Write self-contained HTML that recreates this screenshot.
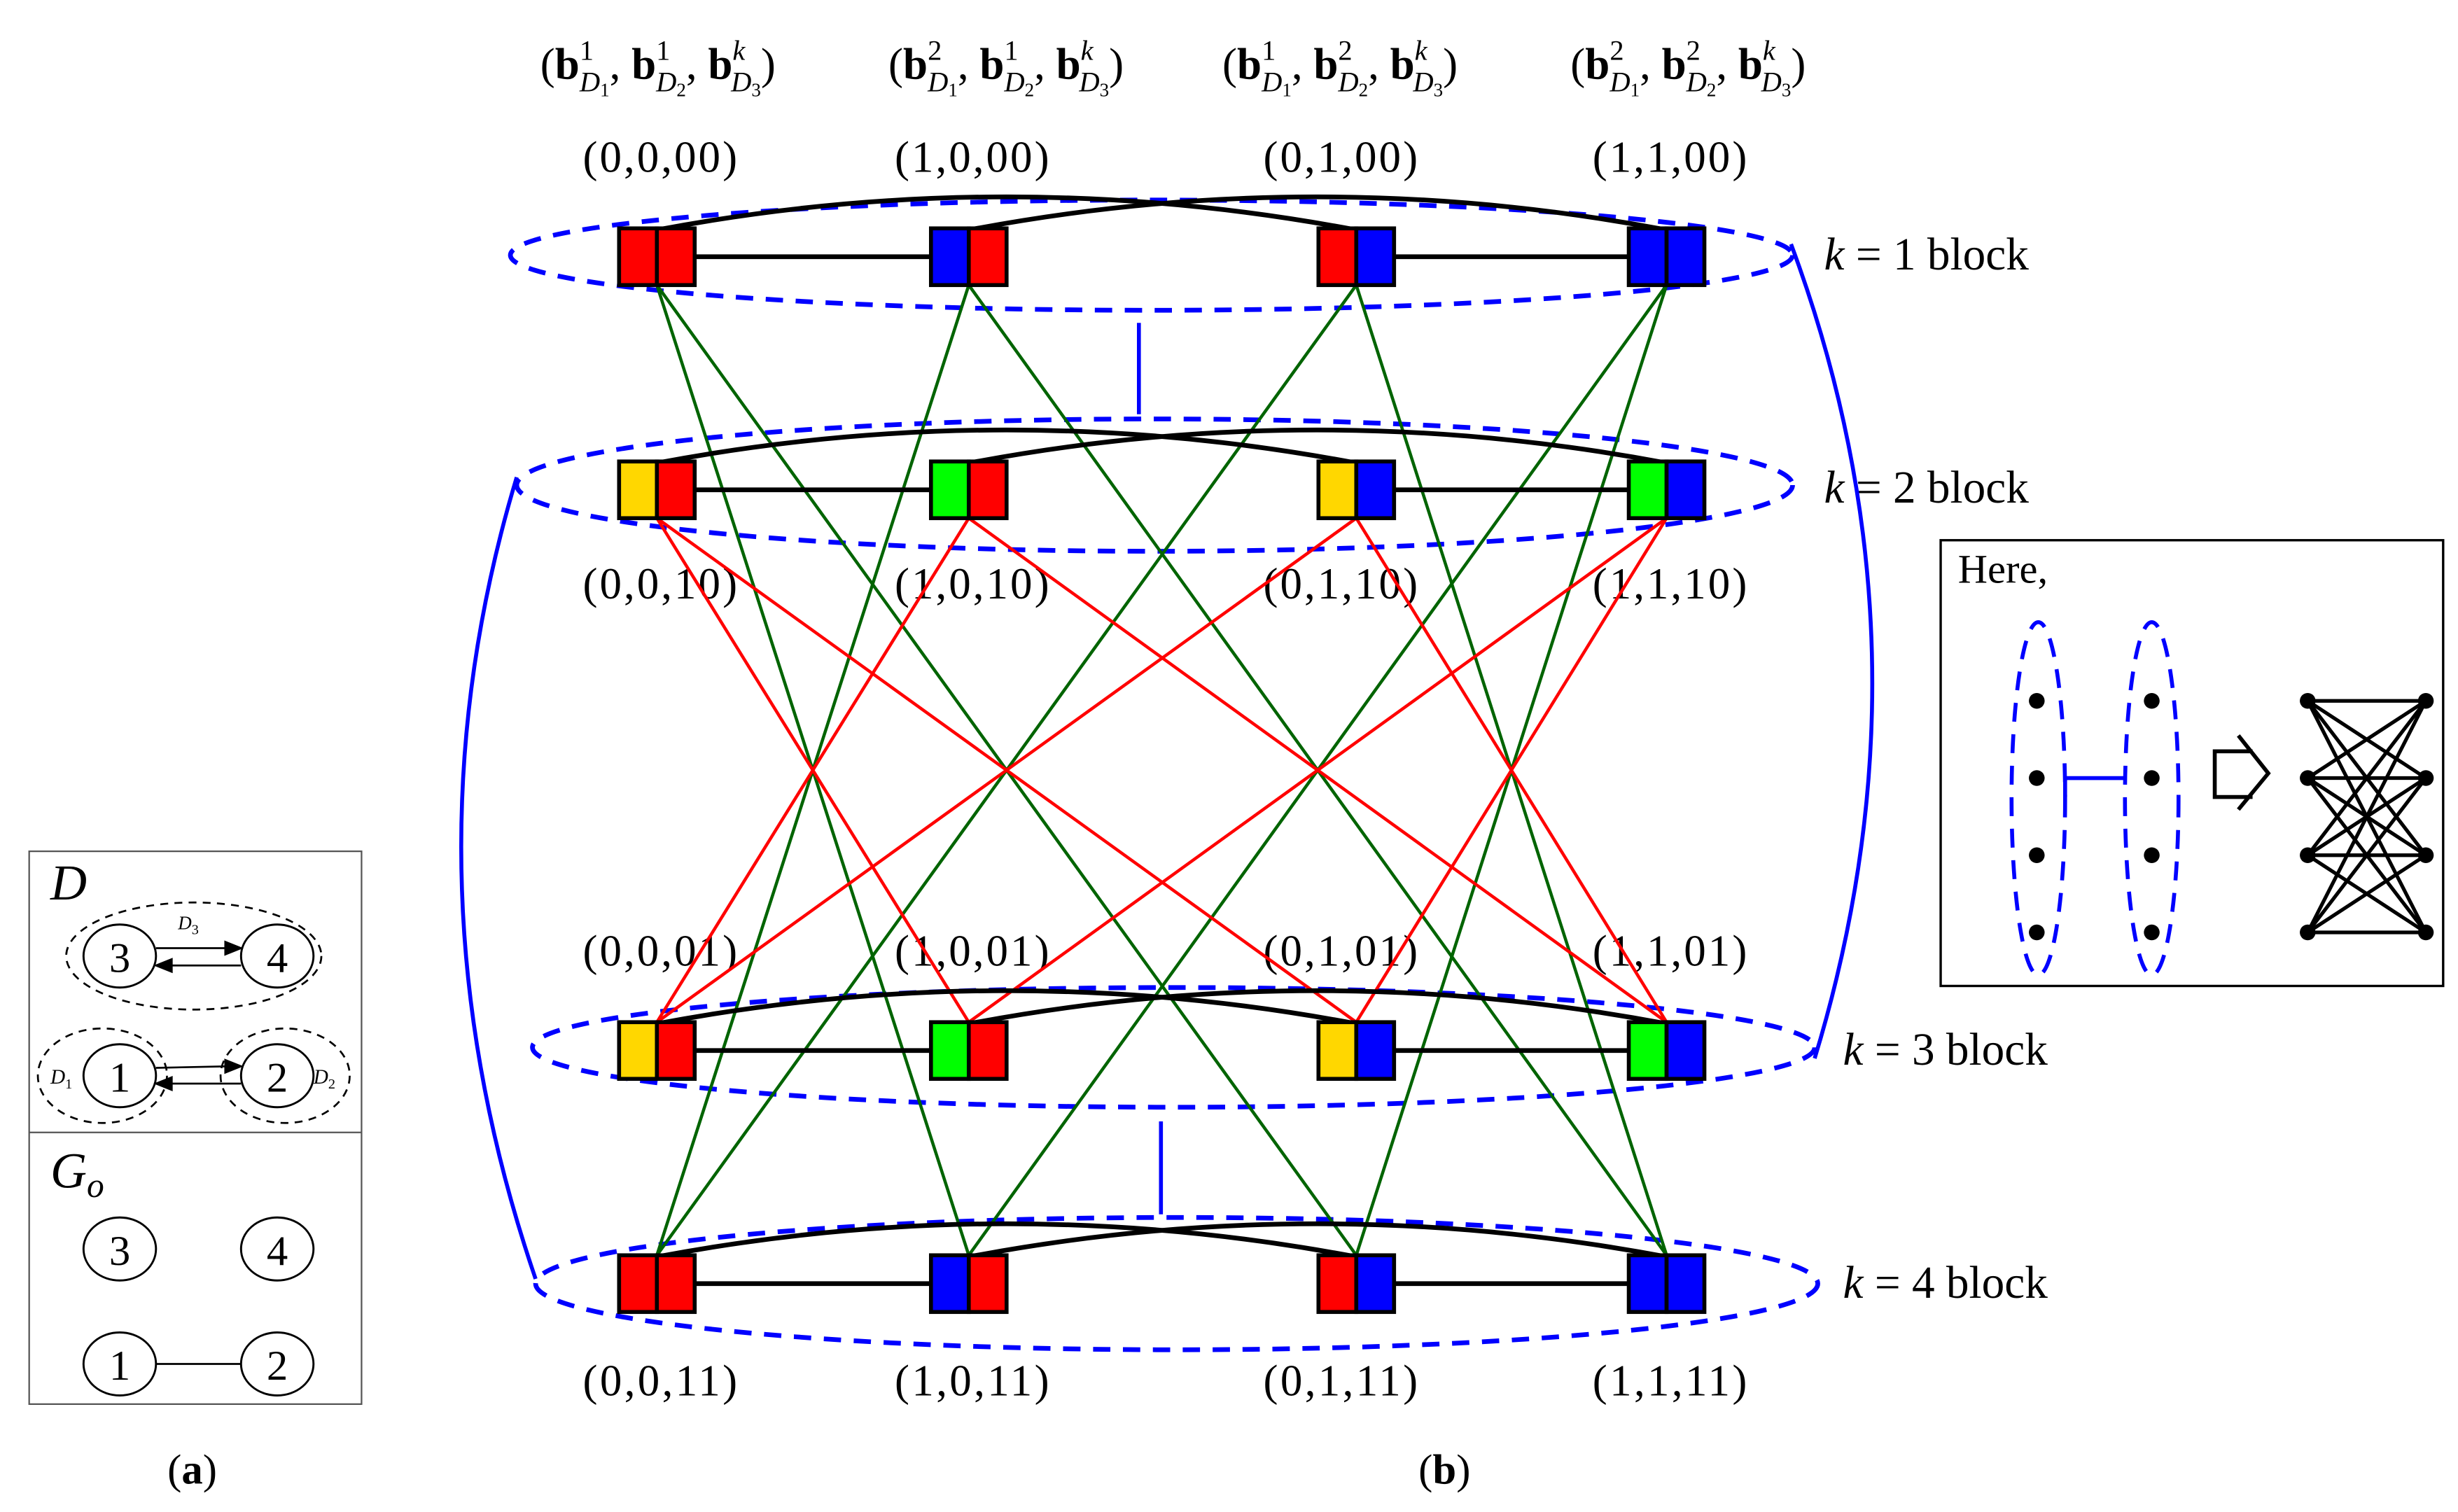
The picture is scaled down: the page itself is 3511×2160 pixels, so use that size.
<!DOCTYPE html>
<html><head><meta charset="utf-8"><style>
html,body{margin:0;padding:0;background:#fff}
svg{display:block}
text{font-family:"Liberation Serif",serif;fill:#000}
</style></head><body>
<svg width="3511" height="2160" viewBox="0 0 1560.4 960" xmlns="http://www.w3.org/2000/svg">
<rect width="1560.4" height="960" fill="#fff"/>

<!-- top vector labels -->
<g font-size="28">
<text x="343" y="50"><tspan>(</tspan><tspan font-weight="bold">b</tspan><tspan font-size="18" dy="-12">1</tspan><tspan font-size="18" font-style="italic" dx="-9" dy="20">D</tspan><tspan font-size="12" dy="3">1</tspan><tspan dy="-11">, </tspan><tspan font-weight="bold">b</tspan><tspan font-size="18" dy="-12">1</tspan><tspan font-size="18" font-style="italic" dx="-9" dy="20">D</tspan><tspan font-size="12" dy="3">2</tspan><tspan dy="-11">, </tspan><tspan font-weight="bold">b</tspan><tspan font-size="18" font-style="italic" dy="-12">k</tspan><tspan font-size="18" font-style="italic" dx="-9" dy="20">D</tspan><tspan font-size="12" dy="3">3</tspan><tspan dy="-11">)</tspan></text>
<text x="564" y="50"><tspan>(</tspan><tspan font-weight="bold">b</tspan><tspan font-size="18" dy="-12">2</tspan><tspan font-size="18" font-style="italic" dx="-9" dy="20">D</tspan><tspan font-size="12" dy="3">1</tspan><tspan dy="-11">, </tspan><tspan font-weight="bold">b</tspan><tspan font-size="18" dy="-12">1</tspan><tspan font-size="18" font-style="italic" dx="-9" dy="20">D</tspan><tspan font-size="12" dy="3">2</tspan><tspan dy="-11">, </tspan><tspan font-weight="bold">b</tspan><tspan font-size="18" font-style="italic" dy="-12">k</tspan><tspan font-size="18" font-style="italic" dx="-9" dy="20">D</tspan><tspan font-size="12" dy="3">3</tspan><tspan dy="-11">)</tspan></text>
<text x="776" y="50"><tspan>(</tspan><tspan font-weight="bold">b</tspan><tspan font-size="18" dy="-12">1</tspan><tspan font-size="18" font-style="italic" dx="-9" dy="20">D</tspan><tspan font-size="12" dy="3">1</tspan><tspan dy="-11">, </tspan><tspan font-weight="bold">b</tspan><tspan font-size="18" dy="-12">2</tspan><tspan font-size="18" font-style="italic" dx="-9" dy="20">D</tspan><tspan font-size="12" dy="3">2</tspan><tspan dy="-11">, </tspan><tspan font-weight="bold">b</tspan><tspan font-size="18" font-style="italic" dy="-12">k</tspan><tspan font-size="18" font-style="italic" dx="-9" dy="20">D</tspan><tspan font-size="12" dy="3">3</tspan><tspan dy="-11">)</tspan></text>
<text x="997" y="50"><tspan>(</tspan><tspan font-weight="bold">b</tspan><tspan font-size="18" dy="-12">2</tspan><tspan font-size="18" font-style="italic" dx="-9" dy="20">D</tspan><tspan font-size="12" dy="3">1</tspan><tspan dy="-11">, </tspan><tspan font-weight="bold">b</tspan><tspan font-size="18" dy="-12">2</tspan><tspan font-size="18" font-style="italic" dx="-9" dy="20">D</tspan><tspan font-size="12" dy="3">2</tspan><tspan dy="-11">, </tspan><tspan font-weight="bold">b</tspan><tspan font-size="18" font-style="italic" dy="-12">k</tspan><tspan font-size="18" font-style="italic" dx="-9" dy="20">D</tspan><tspan font-size="12" dy="3">3</tspan><tspan dy="-11">)</tspan></text>
</g>

<!-- coordinate labels -->
<g font-size="28" text-anchor="middle">
<text x="419" y="109" textLength="98">(0,0,00)</text>
<text x="617" y="109" textLength="98">(1,0,00)</text>
<text x="851" y="109" textLength="98">(0,1,00)</text>
<text x="1060" y="109" textLength="98">(1,1,00)</text>
<text x="419" y="380" textLength="98">(0,0,10)</text>
<text x="617" y="380" textLength="98">(1,0,10)</text>
<text x="851" y="380" textLength="98">(0,1,10)</text>
<text x="1060" y="380" textLength="98">(1,1,10)</text>
<text x="419" y="613" textLength="98">(0,0,01)</text>
<text x="617" y="613" textLength="98">(1,0,01)</text>
<text x="851" y="613" textLength="98">(0,1,01)</text>
<text x="1060" y="613" textLength="98">(1,1,01)</text>
<text x="419" y="886" textLength="98">(0,0,11)</text>
<text x="617" y="886" textLength="98">(1,0,11)</text>
<text x="851" y="886" textLength="98">(0,1,11)</text>
<text x="1060" y="886" textLength="98">(1,1,11)</text>
</g>

<!-- block labels -->
<g font-size="29">
<text x="1158" y="171"><tspan font-style="italic">k</tspan> = 1 block</text>
<text x="1158" y="319"><tspan font-style="italic">k</tspan> = 2 block</text>
<text x="1170" y="676"><tspan font-style="italic">k</tspan> = 3 block</text>
<text x="1170" y="824"><tspan font-style="italic">k</tspan> = 4 block</text>
</g>

<!-- ellipses -->
<g fill="none" stroke="#0000ff" stroke-width="3" stroke-dasharray="11 8">
<ellipse cx="731" cy="162" rx="407" ry="35"/>
<ellipse cx="733" cy="308" rx="405" ry="42"/>
<ellipse cx="745" cy="665" rx="407" ry="38"/>
<ellipse cx="747" cy="815" rx="407" ry="42"/>
</g>
<g fill="none" stroke="#0000ff" stroke-width="2.5">
<path d="M723,205 V263"/>
<path d="M737,712 V771"/>
<path d="M1137,155 Q1232,410 1152,672"/>
<path d="M328,303 Q252,555 340,812"/>
</g>

<!-- green lines -->
<g stroke="#006400" stroke-width="2">
<line x1="417" y1="181" x2="615" y2="797"/>
<line x1="615" y1="181" x2="417" y2="797"/>
<line x1="417" y1="181" x2="861" y2="797"/>
<line x1="861" y1="181" x2="417" y2="797"/>
<line x1="615" y1="181" x2="1058" y2="797"/>
<line x1="1058" y1="181" x2="615" y2="797"/>
<line x1="861" y1="181" x2="1058" y2="797"/>
<line x1="1058" y1="181" x2="861" y2="797"/>
</g>
<!-- red lines -->
<g stroke="#ff0000" stroke-width="2">
<line x1="417" y1="329" x2="615" y2="649"/>
<line x1="615" y1="329" x2="417" y2="649"/>
<line x1="417" y1="329" x2="861" y2="649"/>
<line x1="861" y1="329" x2="417" y2="649"/>
<line x1="615" y1="329" x2="1058" y2="649"/>
<line x1="1058" y1="329" x2="615" y2="649"/>
<line x1="861" y1="329" x2="1058" y2="649"/>
<line x1="1058" y1="329" x2="861" y2="649"/>
</g>

<!-- black arcs and horizontal edges -->
<g fill="none" stroke="#000" stroke-width="3">
<path d="M417,146 Q639,104 861,146"/><path d="M615,146 Q836,104 1058,146"/>
<path d="M417,294 Q639,252 861,294"/><path d="M615,294 Q836,252 1058,294"/>
<path d="M417,650 Q639,608 861,650"/><path d="M615,650 Q836,608 1058,650"/>
<path d="M417,798 Q639,756 861,798"/><path d="M615,798 Q836,756 1058,798"/>
<line x1="441" y1="163" x2="591" y2="163"/><line x1="885" y1="163" x2="1034" y2="163"/>
<line x1="441" y1="311" x2="591" y2="311"/><line x1="885" y1="311" x2="1034" y2="311"/>
<line x1="441" y1="667" x2="591" y2="667"/><line x1="885" y1="667" x2="1034" y2="667"/>
<line x1="441" y1="815" x2="591" y2="815"/><line x1="885" y1="815" x2="1034" y2="815"/>
</g>

<!-- nodes -->
<g stroke="#000" stroke-width="2.5">
<rect x="393" y="145" width="24" height="36" fill="#f00"/><rect x="417" y="145" width="24" height="36" fill="#f00"/>
<rect x="591" y="145" width="24" height="36" fill="#00f"/><rect x="615" y="145" width="24" height="36" fill="#f00"/>
<rect x="837" y="145" width="24" height="36" fill="#f00"/><rect x="861" y="145" width="24" height="36" fill="#00f"/>
<rect x="1034" y="145" width="24" height="36" fill="#00f"/><rect x="1058" y="145" width="24" height="36" fill="#00f"/>
<rect x="393" y="293" width="24" height="36" fill="#ffd700"/><rect x="417" y="293" width="24" height="36" fill="#f00"/>
<rect x="591" y="293" width="24" height="36" fill="#0f0"/><rect x="615" y="293" width="24" height="36" fill="#f00"/>
<rect x="837" y="293" width="24" height="36" fill="#ffd700"/><rect x="861" y="293" width="24" height="36" fill="#00f"/>
<rect x="1034" y="293" width="24" height="36" fill="#0f0"/><rect x="1058" y="293" width="24" height="36" fill="#00f"/>
<rect x="393" y="649" width="24" height="36" fill="#ffd700"/><rect x="417" y="649" width="24" height="36" fill="#f00"/>
<rect x="591" y="649" width="24" height="36" fill="#0f0"/><rect x="615" y="649" width="24" height="36" fill="#f00"/>
<rect x="837" y="649" width="24" height="36" fill="#ffd700"/><rect x="861" y="649" width="24" height="36" fill="#00f"/>
<rect x="1034" y="649" width="24" height="36" fill="#0f0"/><rect x="1058" y="649" width="24" height="36" fill="#00f"/>
<rect x="393" y="797" width="24" height="36" fill="#f00"/><rect x="417" y="797" width="24" height="36" fill="#f00"/>
<rect x="591" y="797" width="24" height="36" fill="#00f"/><rect x="615" y="797" width="24" height="36" fill="#f00"/>
<rect x="837" y="797" width="24" height="36" fill="#f00"/><rect x="861" y="797" width="24" height="36" fill="#00f"/>
<rect x="1034" y="797" width="24" height="36" fill="#00f"/><rect x="1058" y="797" width="24" height="36" fill="#00f"/>
</g>

<!-- panel (a) -->
<rect x="18.5" y="540.5" width="211" height="351" fill="none" stroke="#555" stroke-width="1"/>
<line x1="18.5" y1="719" x2="229.5" y2="719" stroke="#555" stroke-width="1"/>
<text x="32" y="571" font-size="32" font-style="italic">D</text>
<text x="32" y="754" font-size="32" font-style="italic">G<tspan font-size="22" dy="6">o</tspan></text>
<g fill="none" stroke="#000" stroke-width="1.2" stroke-dasharray="5 4">
<ellipse cx="123" cy="607" rx="81" ry="34"/>
<ellipse cx="65" cy="683" rx="41" ry="30"/>
<ellipse cx="181" cy="683" rx="41" ry="30"/>
</g>
<g fill="#fff" stroke="#000" stroke-width="1.3">
<ellipse cx="76" cy="607" rx="23" ry="20"/>
<ellipse cx="176" cy="607" rx="23" ry="20"/>
<ellipse cx="76" cy="683" rx="23" ry="20"/>
<ellipse cx="176" cy="683" rx="23" ry="20"/>
<ellipse cx="76" cy="793" rx="23" ry="20"/>
<ellipse cx="176" cy="793" rx="23" ry="20"/>
<ellipse cx="76" cy="866" rx="23" ry="20"/>
<ellipse cx="176" cy="866" rx="23" ry="20"/>
</g>
<g stroke="#000" stroke-width="1.2" fill="#000">
<line x1="99" y1="602" x2="146" y2="602"/><polygon points="153,602 143,598 143,606"/>
<line x1="106" y1="613" x2="153" y2="613"/><polygon points="99,613 109,609 109,617"/>
<line x1="99" y1="678" x2="146" y2="677"/><polygon points="153,677 143,673 143,681"/>
<line x1="106" y1="688" x2="153" y2="688"/><polygon points="99,688 109,684 109,692"/>
<line x1="99" y1="866" x2="153" y2="866"/>
</g>
<g font-size="27" text-anchor="middle">
<text x="76" y="617">3</text><text x="176" y="617">4</text>
<text x="76" y="693">1</text><text x="176" y="693">2</text>
<text x="76" y="803">3</text><text x="176" y="803">4</text>
<text x="76" y="876">1</text><text x="176" y="876">2</text>
</g>
<text x="113" y="590" font-size="12" font-style="italic">D<tspan font-size="9" font-style="normal" dy="3">3</tspan></text>
<text x="32" y="688" font-size="13" font-style="italic">D<tspan font-size="9" font-style="normal" dy="3">1</tspan></text>
<text x="199" y="688" font-size="13" font-style="italic">D<tspan font-size="9" font-style="normal" dy="3">2</tspan></text>
<text x="122" y="942" font-size="27" text-anchor="middle">(<tspan font-weight="bold">a</tspan>)</text>
<text x="917" y="942" font-size="27" text-anchor="middle">(<tspan font-weight="bold">b</tspan>)</text>

<!-- Here box -->
<rect x="1232" y="343" width="319" height="283" fill="none" stroke="#000" stroke-width="1.5"/>
<text x="1243" y="370" font-size="26">Here,</text>
<g fill="none" stroke="#0000ff" stroke-width="2.5" stroke-dasharray="12 8">
<ellipse cx="1294" cy="507" rx="17" ry="112"/>
<ellipse cx="1366" cy="507" rx="17" ry="112"/>
</g>
<path d="M1311,506 V494 H1350" fill="none" stroke="#0000ff" stroke-width="2.5"/>
<g fill="#000">
<circle cx="1293" cy="445" r="5"/><circle cx="1293" cy="494" r="5"/><circle cx="1293" cy="543" r="5"/><circle cx="1293" cy="592" r="5"/>
<circle cx="1366" cy="445" r="5"/><circle cx="1366" cy="494" r="5"/><circle cx="1366" cy="543" r="5"/><circle cx="1366" cy="592" r="5"/>
</g>
<path d="M1430,477 H1406 V506 H1430 M1421,467 L1440,491 L1421,514" fill="none" stroke="#000" stroke-width="2.5"/>
<g stroke="#000" stroke-width="2.3">
<line x1="1465" y1="445" x2="1540" y2="445"/><line x1="1465" y1="445" x2="1540" y2="494"/><line x1="1465" y1="445" x2="1540" y2="543"/><line x1="1465" y1="445" x2="1540" y2="592"/>
<line x1="1465" y1="494" x2="1540" y2="445"/><line x1="1465" y1="494" x2="1540" y2="494"/><line x1="1465" y1="494" x2="1540" y2="543"/><line x1="1465" y1="494" x2="1540" y2="592"/>
<line x1="1465" y1="543" x2="1540" y2="445"/><line x1="1465" y1="543" x2="1540" y2="494"/><line x1="1465" y1="543" x2="1540" y2="543"/><line x1="1465" y1="543" x2="1540" y2="592"/>
<line x1="1465" y1="592" x2="1540" y2="445"/><line x1="1465" y1="592" x2="1540" y2="494"/><line x1="1465" y1="592" x2="1540" y2="543"/><line x1="1465" y1="592" x2="1540" y2="592"/>
</g>
<g fill="#000">
<circle cx="1465" cy="445" r="5"/><circle cx="1465" cy="494" r="5"/><circle cx="1465" cy="543" r="5"/><circle cx="1465" cy="592" r="5"/>
<circle cx="1540" cy="445" r="5"/><circle cx="1540" cy="494" r="5"/><circle cx="1540" cy="543" r="5"/><circle cx="1540" cy="592" r="5"/>
</g>
</svg>
</body></html>
